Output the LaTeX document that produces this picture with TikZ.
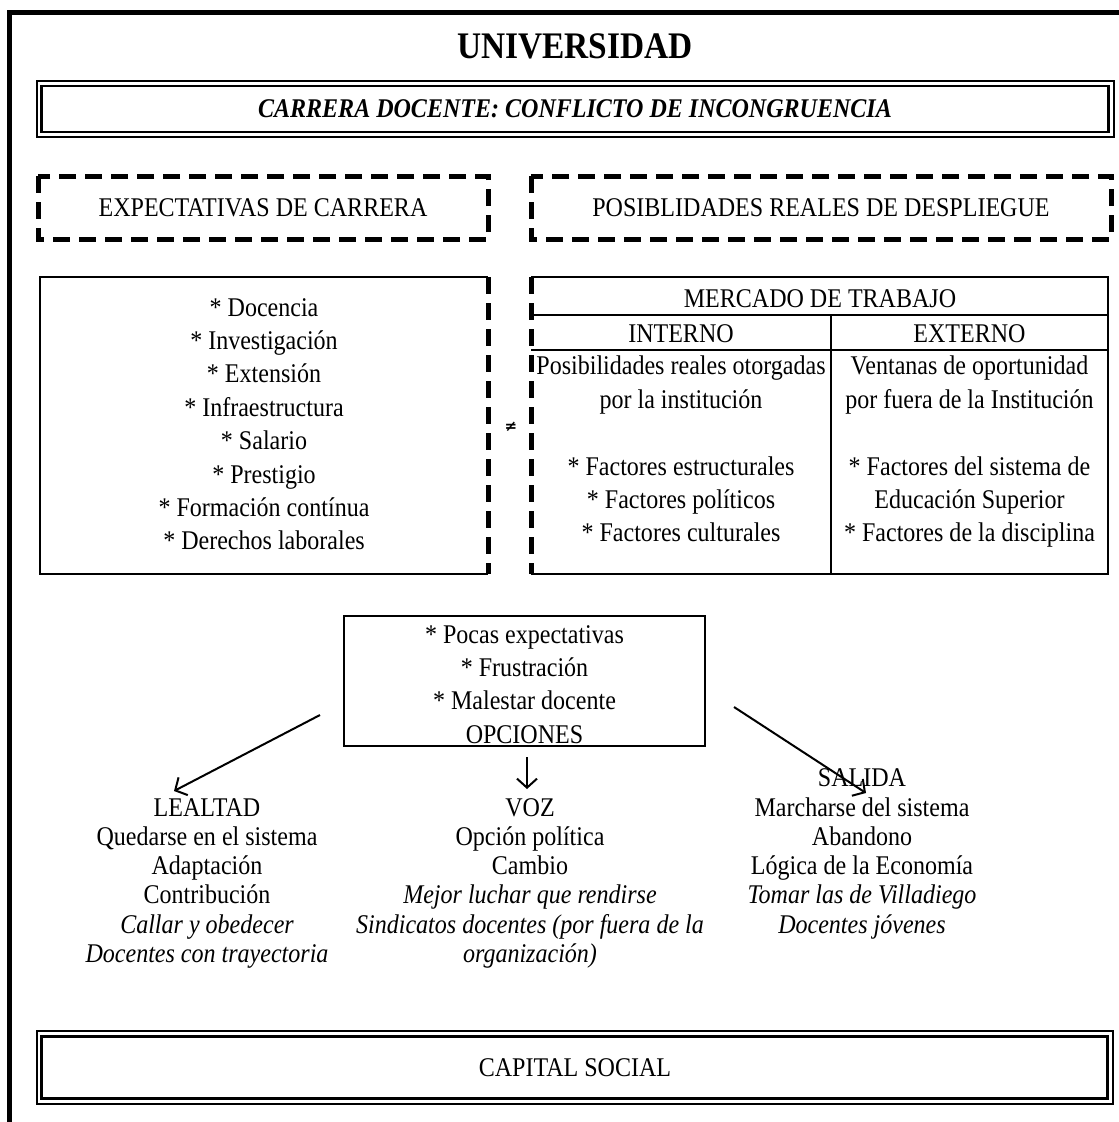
\documentclass[tikz,border=0pt]{standalone}
\usepackage{fontspec}
\setmainfont{Liberation Serif}[FakeStretch=0.89]
\newfontfamily\symfont{DejaVu Sans}
\usetikzlibrary{arrows.meta}
\begin{document}
\begin{tikzpicture}[x=1pt,y=-1pt,
  txt/.style={anchor=base, inner sep=0pt, font=\fontsize{27}{33}\selectfont},
  itx/.style={anchor=base, inner sep=0pt, font=\fontsize{27}{33}\selectfont\itshape},
  outerline/.style={line width=5pt},
  dbl/.style={line width=2.5pt},
  dsh/.style={line width=5pt, dash pattern=on 17pt off 9pt},
  sol/.style={line width=2.8pt},
  arr/.style={line width=2pt, -{Straight Barb[length=9pt,width=20pt]}}
]
\useasboundingbox (0,0) rectangle (1119,1122);
% outer frame (top and left only)
\draw[outerline] (7,12.5) -- (1119,12.5);
\draw[outerline] (9.5,10) -- (9.5,1122);

% title
\node[anchor=base, inner sep=0pt, font=\fontsize{37.5}{40}\selectfont\bfseries] (univ) at (575,58) {UNIVERSIDAD};
\draw[dbl] (37,81) rectangle (1114,137);
\draw[dbl] (41.5,86) rectangle (1108.5,132);
\node[anchor=base, inner sep=0pt, font=\fontsize{27}{33}\selectfont\bfseries\itshape] (carrera) at (575,117.5) {CARRERA DOCENTE: CONFLICTO DE INCONGRUENCIA};

% dashed header boxes
\draw[dsh] (38,176) rectangle (488,239);
\node[txt] (expt) at (263,216) {EXPECTATIVAS DE CARRERA};
\draw[dsh] (531,176) rectangle (1111,239);
\node[txt] (post) at (821,216) {POSIBLIDADES REALES DE DESPLIEGUE};

% expectations box
\draw[sol] (488,277) -- (40,277) -- (40,574) -- (488,574);
\draw[dsh] (488,277) -- (488,574);
\foreach \t [count=\i from 0] in {{* Docencia},{* Investigación},{* Extensión},{* Infraestructura},{* Salario},{* Prestigio},{* Formación contínua},{* Derechos laborales}}
  \node[txt] (exp\i) at (264,{316+33.4*\i}) {\t};

% not equal
\node[inner sep=0pt, font=\symfont\bfseries\fontsize{15}{15}\selectfont] (neq) at (511,427) {≠};

% labour market table
\draw[dsh] (531,277) -- (531,574);
\draw[sol] (531,277) -- (1108,277) -- (1108,574) -- (531,574);
\draw[sol] (531,315) -- (1108,315);
\draw[sol] (531,350) -- (1108,350);
\draw[sol] (831,315) -- (831,574);
\node[txt] (merc) at (820,307) {MERCADO DE TRABAJO};
\node[txt] (intn) at (681,342) {INTERNO};
\node[txt] (extn) at (969.5,342) {EXTERNO};
\foreach \t/\y [count=\i] in {{Posibilidades reales otorgadas}/374.5,{por la institución}/408,{* Factores estructurales}/475,{* Factores políticos}/508.4,{* Factores culturales}/541.8}
  \node[txt] (int\i) at (681,\y) {\t};
\foreach \t/\y [count=\i] in {{Ventanas de oportunidad}/374.5,{por fuera de la Institución}/408,{* Factores del sistema de}/475,{Educación Superior}/508.4,{* Factores de la disciplina}/541.8}
  \node[txt] (ext\i) at (969.5,\y) {\t};

% central box
\draw[dbl] (344,616) rectangle (705,746);
\foreach \t [count=\i from 0] in {{* Pocas expectativas},{* Frustración},{* Malestar docente},{OPCIONES}}
  \node[txt] (cen\i) at (524.5,{643+33.4*\i}) {\t};

% arrows
\coordinate (aLs) at (320,715);
\coordinate (aLe) at (174,791);
\coordinate (aCs) at (527,757);
\coordinate (aCe) at (527,789);
\coordinate (aRs) at (734,707);
\coordinate (aRe) at (866,793);
\draw[arr] (aLs) -- (aLe);
\draw[arr] (aCs) -- (aCe);
\draw[arr] (aRs) -- (aRe);

% columns
\node[txt] (lea0) at (207,816) {LEALTAD};
\node[txt] (lea1) at (207,845.3) {Quedarse en el sistema};
\node[txt] (lea2) at (207,874.6) {Adaptación};
\node[txt] (lea3) at (207,903.9) {Contribución};
\node[itx] (lea4) at (207,933.2) {Callar y obedecer};
\node[itx] (lea5) at (207,962.5) {Docentes con trayectoria};

\node[txt] (voz0) at (530,816) {VOZ};
\node[txt] (voz1) at (530,845.3) {Opción política};
\node[txt] (voz2) at (530,874.6) {Cambio};
\node[itx] (voz3) at (530,903.9) {Mejor luchar que rendirse};
\node[itx] (voz4) at (530,933.2) {Sindicatos docentes (por fuera de la};
\node[itx] (voz5) at (530,962.5) {organización)};

\node[txt] (sal0) at (862,786.7) {SALIDA};
\node[txt] (sal1) at (862,816) {Marcharse del sistema};
\node[txt] (sal2) at (862,845.3) {Abandono};
\node[txt] (sal3) at (862,874.6) {Lógica de la Economía};
\node[itx] (sal4) at (862,903.9) {Tomar las de Villadiego};
\node[itx] (sal5) at (862,933.2) {Docentes jóvenes};

% capital social
\draw[dbl] (37,1031) rectangle (1113,1104);
\draw[dbl] (41.5,1036.5) rectangle (1107.5,1098.5);
\node[txt] (cap) at (575,1076) {CAPITAL SOCIAL};
\end{tikzpicture}
\end{document}
